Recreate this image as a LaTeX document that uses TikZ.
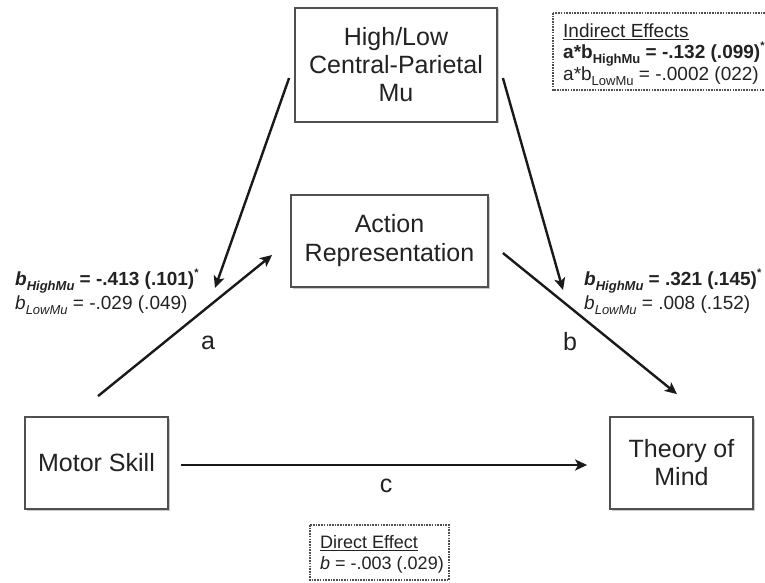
\documentclass[tikz,border=0pt]{standalone}
\usepackage{fontspec}
\setmainfont{Liberation Sans}
\usetikzlibrary{arrows.meta,shadows,calc}
\newcommand\lsub[1]{\raisebox{-0.45ex}{\fontsize{13}{13}\selectfont #1}}
\newcommand\lsup[1]{\raisebox{0.9ex}{\fontsize{11}{11}\selectfont #1}}
\definecolor{txt}{HTML}{222222}
\definecolor{bord}{HTML}{505050}
\begin{document}
\begin{tikzpicture}[x=1pt,y=-1pt,
  varbox/.style={draw=bord,line width=1.8pt,fill=white,align=center,text=txt,
    font=\fontsize{25}{28}\selectfont,inner sep=0pt,
    drop shadow={shadow xshift=1.5pt,shadow yshift=-1.5pt,opacity=0.35,fill=black!60}},
  arr/.style={line width=2.4pt,draw=black!90,-{Stealth[length=12pt,width=11pt,inset=3pt]}},
  lab/.style={text=txt,font=\fontsize{19}{22}\selectfont,inner sep=0pt},
  pathlab/.style={text=txt,font=\fontsize{25}{28}\selectfont,inner sep=0pt},
  effbox/.style={draw=bord,line width=1.5pt,dash pattern=on 1.6pt off 1.1pt,fill=white}]
\useasboundingbox (0,0) rectangle (765,583);
\clip (0,0) rectangle (765,583);
\fill[white] (0,0) rectangle (765,583);

% boxes
\node[varbox,minimum width=202pt,minimum height=114pt] (mu) at (396,65) {High/Low\\Central-Parietal\\Mu};
\node[varbox,minimum width=197pt,minimum height=92pt] (ar) at (389.5,241) {Action\\[1pt]Representation};
\node[varbox,minimum width=143pt,minimum height=92pt] (ms) at (96.5,463) {Motor Skill};
\node[varbox,minimum width=143pt,minimum height=92pt] (tm) at (681.5,463) {Theory of\\Mind};

% free ends of the moderation arrows
\coordinate (lt) at (215,288);
\coordinate (rt) at (563,290);

% arrows
\draw[arr] ([shift={(-5,13)}]mu.west) -- (lt);
\draw[arr] ([shift={(5,13)}]mu.east) -- (rt);
\draw[arr] ([shift={(1.5,-20)}]ms.north) -- ([shift={(-18,14)}]ar.west);
\draw[arr] ([shift={(14,12)}]ar.east) -- ([shift={(-4.5,-22)}]tm.north);
\draw[arr] ([shift={(12,2)}]ms.east) -- ([shift={(-22,2)}]tm.west);

% path labels
\node[pathlab] (la) at (208,343) {a};
\node[pathlab] (lb) at (570,342) {b};
\node[pathlab] (lc) at (386,486) {c};

% left coefficients
\node[lab,anchor=west] (l1) at (15,281) {\textbf{\textit{b}\lsub{\textit{HighMu}} = -.413 (.101)\lsup{*}}};
\node[lab,anchor=west] (l2) at (15,305) {\textit{b}\lsub{\textit{LowMu}} = -.029 (.049)};

% right coefficients
\node[lab,anchor=west] (r1) at (584,281) {\textbf{\textit{b}\lsub{\textit{HighMu}} = .321 (.145)\lsup{*}}};
\node[lab,anchor=west] (r2) at (584,305) {\textit{b}\lsub{\textit{LowMu}} = .008 (.152)};

% indirect effects
\draw[effbox] (553,13) rectangle (775,90);
\node[lab,anchor=west] (i1) at (563,32) {\underline{Indirect Effects}};
\node[lab,anchor=west] (i2) at (563,54) {\textbf{a*b\lsub{HighMu} = -.132 (.099)\lsup{*}}};
\node[lab,anchor=west] (i3) at (563,76) {a*b\lsub{LowMu} = -.0002 (022)};

% direct effect
\draw[effbox] (310,525) rectangle (449,580);
\node[lab,anchor=west,font=\fontsize{18}{21}\selectfont] (d1) at (320,543) {\underline{Direct Effect}};
\node[lab,anchor=west,font=\fontsize{18}{21}\selectfont] (d2) at (320,565) {\textit{b} = -.003 (.029)};
\end{tikzpicture}
\end{document}
